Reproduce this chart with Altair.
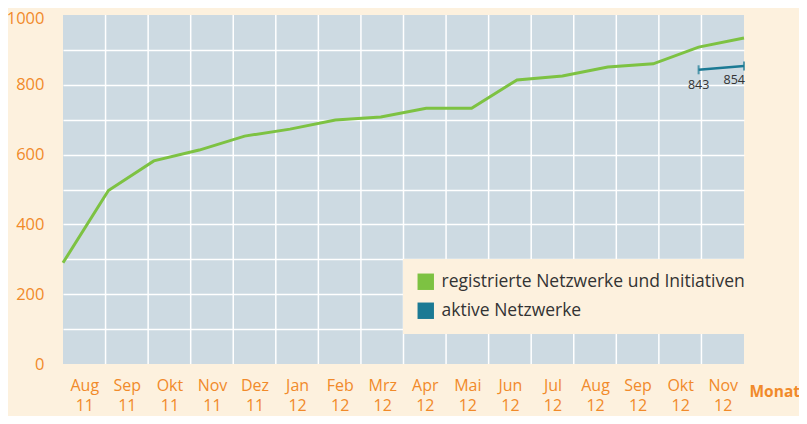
import json
import altair as alt
import pandas as pd

# ---- data ----
months = ["Aug", "Sep", "Okt", "Nov", "Dez", "Jan", "Feb", "Mrz",
          "Apr", "Mai", "Jun", "Jul", "Aug", "Sep", "Okt", "Nov"]
years = ["11", "11", "11", "11", "11", "12", "12", "12",
         "12", "12", "12", "12", "12", "12", "12", "12"]
registered = [290, 497, 582, 613, 653, 673, 699, 708,
              733, 733, 814, 825, 851, 860, 908, 934]
active_idx = [14, 15]
active = [843, 854]
series_names = ["registrierte Netzwerke und Initiativen", "aktive Netzwerke"]
series_colors = ["#7dc242", "#1b7a94"]
y_ticks = list(range(0, 1001, 100))

# ---- styles ----
BG = "#fdf1de"
PLOT = "#cddae2"
ORANGE = "#f18a2a"
FONT = "Open Sans"

n = len(months)
tick_labels = [f"{m}\n{y}" for m, y in zip(months, years)]

df_reg = pd.DataFrame({"i": list(range(n)), "v": registered})
df_act = pd.DataFrame({"i": active_idx, "v": active, "lab": [str(a) for a in active]})
df_grid = pd.DataFrame({"g": list(range(1, n))})
df_leg = pd.DataFrame({"s": series_names})

xdata = alt.Scale(domain=[0, n - 1], nice=False, zero=False)
y_enc = alt.Y(
    "v:Q",
    scale=alt.Scale(domain=[0, 1000], nice=False),
    axis=alt.Axis(
        values=y_ticks,
        labelExpr="datum.value % 200 == 0 ? datum.label : ''",
        title=None,
        ticks=False,
        domain=False,
        grid=True,
        gridColor="white",
        gridWidth=1.5,
        gridOpacity={"condition": {"test": "datum.value == 0 || datum.value == 1000", "value": 0}, "value": 1},
        labelColor=ORANGE,
        labelFont=FONT,
        labelFontSize=16.5,
        labelPadding=19,
        labelOffset={"condition": {"test": "datum.value == 1000", "value": 3}, "value": 0},
        format="d",
    ),
)

label_expr = "split(" + json.dumps(tick_labels) + "[floor(datum.value)], '\\n')"

vgrid = alt.Chart(df_grid).mark_rule(color="white", strokeWidth=1.5).encode(
    x=alt.X(
        "g:Q",
        scale=alt.Scale(domain=[0, n], nice=False, zero=False),
        axis=alt.Axis(
            values=[k + 0.5 for k in range(n)],
            labelExpr=label_expr,
            title="Monat",
            titleColor=ORANGE,
            titleFont=FONT,
            titleFontSize=15.5,
            titleFontWeight="bold",
            titleAlign="left",
            titleBaseline="middle",
            titleX=686,
            titleY=27,
            titleAngle=0,
            ticks=False,
            domain=False,
            grid=False,
            labelColor=ORANGE,
            labelFont=FONT,
            labelFontSize=16,
            labelPadding=13,
            labelBaseline="top",
            labelLineHeight=20,
            labelAlign="center",
            labelFlush=False,
            labelOverlap=False,
        ),
    )
)

green = alt.Chart(df_reg).mark_line(color=series_colors[0], strokeWidth=3).encode(
    x=alt.X("i:Q", scale=xdata, axis=None), y=y_enc
)

teal = alt.Chart(df_act).mark_line(color=series_colors[1], strokeWidth=2.5).encode(
    x=alt.X("i:Q", scale=xdata, axis=None), y=y_enc
)
teal_ticks = alt.Chart(df_act).mark_tick(
    color=series_colors[1], orient="vertical", size=9, thickness=2
).encode(x=alt.X("i:Q", scale=xdata, axis=None), y=y_enc)

lab1 = alt.Chart(df_act).transform_filter("datum.i < 15").mark_text(
    color="#333333", font=FONT, fontSize=12.5, dy=15, align="center", baseline="middle"
).encode(x=alt.X("i:Q", scale=xdata, axis=None), y=y_enc, text="lab:N")
lab2 = alt.Chart(df_act).transform_filter("datum.i >= 15").mark_text(
    color="#333333", font=FONT, fontSize=12.5, dy=14, dx=1, align="right", baseline="middle"
).encode(x=alt.X("i:Q", scale=xdata, axis=None), y=y_enc, text="lab:N")

legend_layer = alt.Chart(df_leg).mark_square(size=256, opacity=0).encode(
    color=alt.Color(
        "s:N",
        scale=alt.Scale(domain=series_names, range=series_colors),
        sort=series_names,
        legend=alt.Legend(
            title=None,
            orient="none",
            legendX=340,
            legendY=244,
            fillColor=BG,
            padding=14,
            symbolType="square",
            symbolSize=270,
            symbolOpacity=1,
            symbolStrokeWidth=0,
            labelFont=FONT,
            labelFontSize=17.5,
            labelColor="#333333",
            labelOffset=7,
            rowPadding=10,
            labelLimit=400,
        ),
    )
)

chart = (
    alt.layer(vgrid, green, teal, teal_ticks, lab1, lab2, legend_layer)
    .resolve_scale(x="independent")
    .properties(
        width=681,
        height=349,
        background=BG,
        view=alt.ViewBackground(fill=PLOT, stroke=None),
        autosize=alt.AutoSizeParams(type="none"),
        padding={"left": 55, "top": 7, "right": 55, "bottom": 52},
    )
)

chart.save("out.html", embed_options={"renderer": "svg", "actions": False})
